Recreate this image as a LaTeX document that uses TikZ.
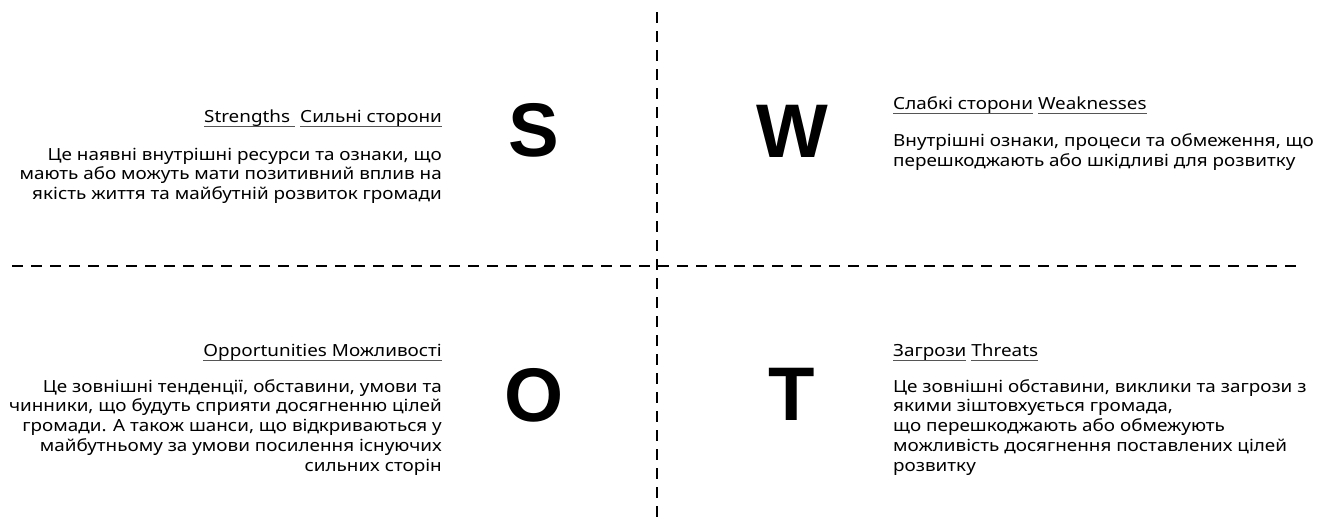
\documentclass[tikz,border=0pt]{standalone}
\usepackage{fontspec}
\setmainfont{Noto Sans}[FakeStretch=1.13]
\newfontfamily\letterfont{Liberation Sans}
\definecolor{ulgray}{HTML}{555555}
\newsavebox\ulbox
\newcommand\gul[1]{\sbox\ulbox{#1}\rlap{\textcolor{ulgray}{\rule[-4.5pt]{\wd\ulbox}{1pt}}}\usebox\ulbox}
\tikzset{
  divider/.style={line width=1.2pt, dash pattern=on 11pt off 8pt},
  bigletter/.style={font=\letterfont\bfseries\fontsize{76}{76}\selectfont, inner sep=0pt, anchor=base},
  headtext/.style={font=\fontsize{16.7}{19.7}\selectfont, inner sep=0pt},
  bodyL/.style={font=\fontsize{16.7}{19.7}\selectfont, inner sep=0pt, align=right, anchor=base east},
  bodyR/.style={font=\fontsize{16.7}{19.7}\selectfont, inner sep=0pt, align=left, anchor=base west},
}
\begin{document}
\begin{tikzpicture}[x=1pt,y=-1pt]
\useasboundingbox (0,0) rectangle (1318,517);
\coordinate (vtop) at (657,12);
\coordinate (vbot) at (657,517);
\coordinate (hleft) at (12,266);
\coordinate (hright) at (1303,266);
\draw[divider] (vtop) -- (vbot);
\draw[divider] (hleft) -- (hright);

\node[bigletter] (S) at (534,156) {S};
\node[bigletter] (W) at (792,157) {W};
\node[bigletter] (O) at (534,421) {O};
\node[bigletter] (T) at (792,420) {T};

% Strengths
\node[headtext, anchor=base east] (sh) at (442,122) {\gul{Strengths\hspace{0.3em}}\hspace{0.3em}\gul{Сильні сторони}};
\node[bodyL] (sb) at (442,199.5) {Це наявні внутрішні ресурси та ознаки, що\\мають або можуть мати позитивний вплив на\\якість життя та майбутній розвиток громади};

% Weaknesses
\node[headtext, anchor=base west] (wh) at (893,109.5) {\gul{Слабкі сторони}\hspace{0.3em}\gul{Weaknesses}};
\node[bodyR] (wb) at (893,166.5) {Внутрішні ознаки, процеси та обмеження, що\\перешкоджають або шкідливі для розвитку};

% Opportunities
\node[headtext, anchor=base east] (oh) at (442,356) {\gul{Opportunities Можливості}};
\node[bodyL] (ob) at (442,471) {Це зовнішні тенденції, обставини, умови та\\чинники, що будуть сприяти досягненню цілей\\громади. А також шанси, що відкриваються у\\майбутньому за умови посилення існуючих\\сильних сторін};

% Threats
\node[headtext, anchor=base west] (th) at (893,356) {\gul{Загрози}\hspace{0.3em}\gul{Threats}};
\node[bodyR] (tb) at (893,471) {Це зовнішні обставини, виклики та загрози з\\якими зіштовхується громада,\\що перешкоджають або обмежують\\можливість досягнення поставлених цілей\\розвитку};
\end{tikzpicture}
\end{document}
